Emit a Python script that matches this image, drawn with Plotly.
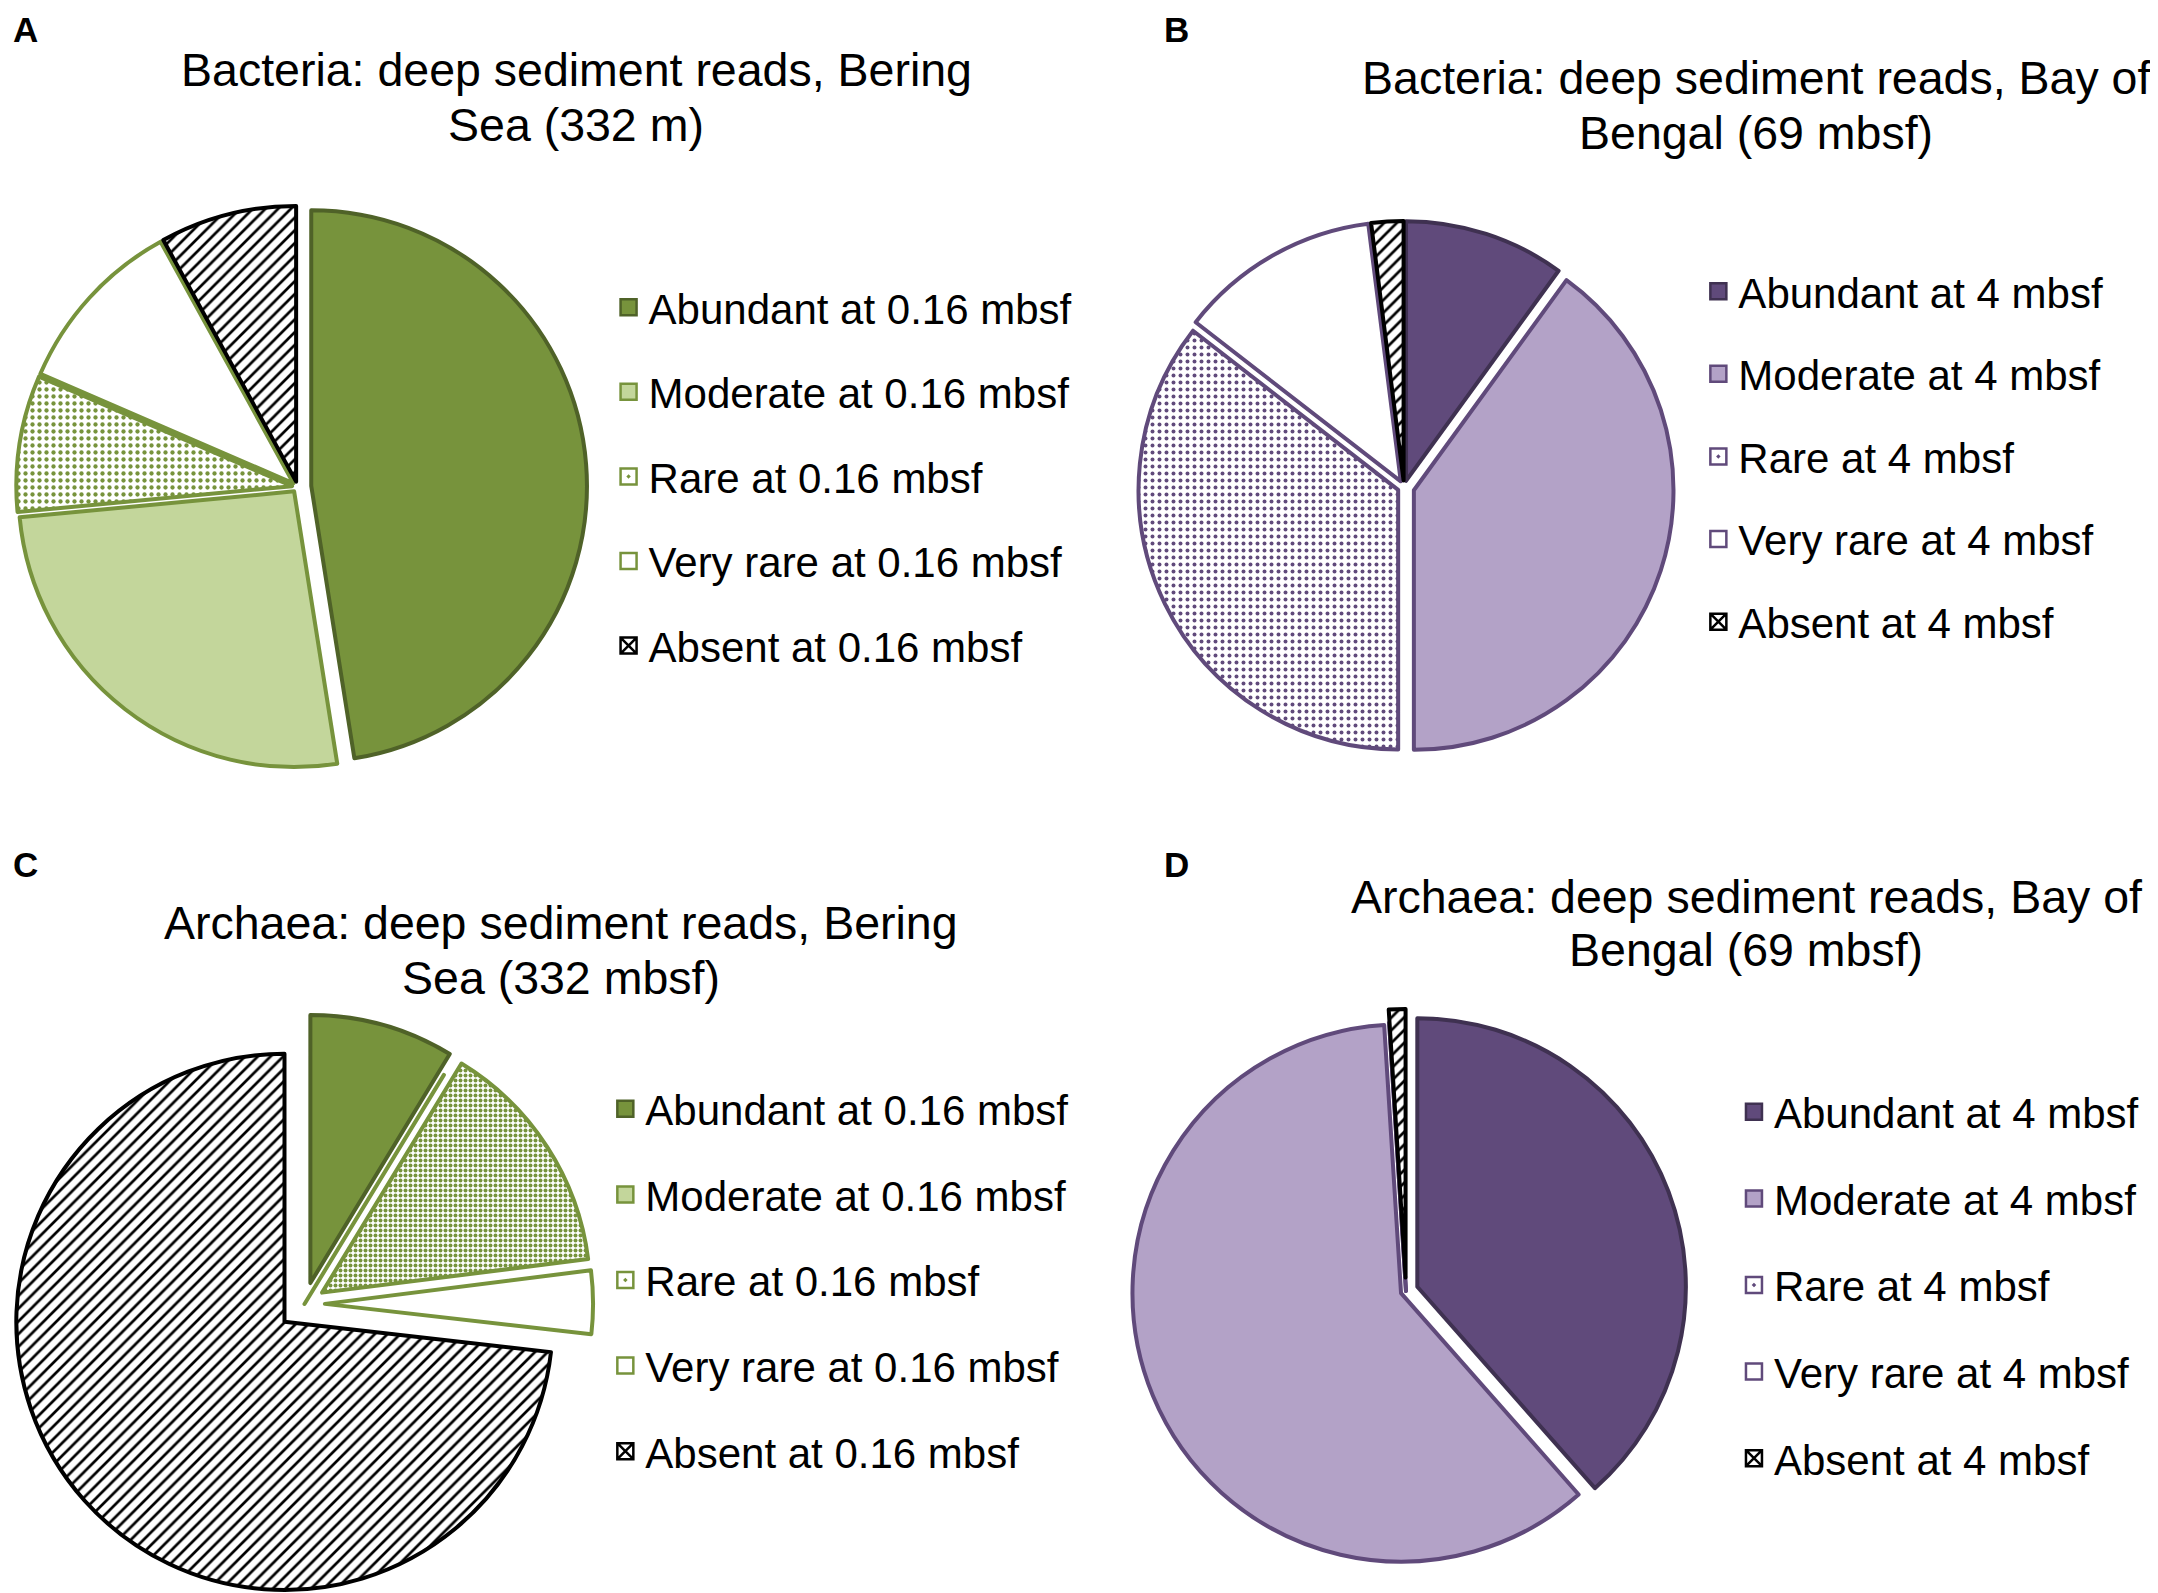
import plotly.graph_objects as go

W, H = 2158, 1593
FONT = "Liberation Sans, Arial, sans-serif"

# ---------------- data ----------------
status = ["Abundant", "Moderate", "Rare", "Very rare", "Absent"]
labels_bering = [f"{s} at 0.16 mbsf" for s in status]
labels_bengal = [f"{s} at 4 mbsf" for s in status]

# percent of reads
values_A = [47.5, 26.0, 8.0, 10.5, 8.0]    # Bacteria, Bering Sea
values_B = [10.0, 40.0, 35.5, 12.5, 2.0]   # Bacteria, Bay of Bengal
values_C = [8.7, 0.0, 14.3, 3.8, 73.2]     # Archaea, Bering Sea
values_D = [38.5, 60.5, 0.0, 0.0, 1.0]     # Archaea, Bay of Bengal

title_A = ["Bacteria: deep sediment reads, Bering", "Sea (332 m)"]
title_B = ["Bacteria: deep sediment reads, Bay of", "Bengal (69 mbsf)"]
title_C = ["Archaea: deep sediment reads, Bering", "Sea (332 mbsf)"]
title_D = ["Archaea: deep sediment reads, Bay of", "Bengal (69 mbsf)"]
panel_letters = ["A", "B", "C", "D"]

# ---------------- styles ----------------
green_fill = ["#77933C", "#C3D69B", "#FFFFFF", "#FFFFFF", "#FFFFFF"]
green_line = ["#4F6228", "#77933C", "#77933C", "#77933C", "#000000"]
green_fg = ["#77933C", "#77933C", "#77933C", "#77933C", "#000000"]
purple_fill = ["#604A7B", "#B3A2C7", "#FFFFFF", "#FFFFFF", "#FFFFFF"]
purple_line = ["#3F3151", "#604A7B", "#604A7B", "#604A7B", "#000000"]
purple_fg = ["#604A7B", "#604A7B", "#604A7B", "#604A7B", "#000000"]
shapes = ["", "", ".", "", "/"]
legend_symbols = ["square", "square", "square-dot", "square", "square-x"]


def dom(cx, cy, half):
    x0, x1 = max(0.0, (cx - half) / W), min(1.0, (cx + half) / W)
    y0, y1 = max(0.0, 1 - (cy + half) / H), min(1.0, 1 - (cy - half) / H)
    return dict(x=[x0, x1], y=[y0, y1])


panels = [
    dict(name="A", labels=labels_bering, values=values_A, fill=green_fill, line=green_line,
         fg=green_fg, dot=(7, 0.3), pull=[0.05, 0.02, 0.02, 0.02, 0.02],
         domain=dom(286, 479, 293), legend="legend", lx=0.2783, ly=0.8334, gap=27),
    dict(name="B", labels=labels_bengal, values=values_B, fill=purple_fill, line=purple_line,
         fg=purple_fg, dot=(7, 0.25), pull=[0.025, 0.04, 0.025, 0.025, 0.025],
         domain=dom(1396, 479, 270), legend="legend2", lx=0.7833, ly=0.8434, gap=25),
    dict(name="C", labels=labels_bering, values=values_C, fill=green_fill, line=green_line,
         fg=green_fg, dot=(5, 0.5), pull=[0.081, 0.0, 0.078, 0.076, 0.10],
         domain=dom(296.5, 1296, 295), legend="legend3", lx=0.2768, ly=0.3302, gap=28),
    dict(name="D", labels=labels_bengal, values=values_D, fill=purple_fill, line=purple_line,
         fg=purple_fg, dot=(7, 0.25), pull=[0.045, 0.02, 0.0, 0.0, 0.05],
         domain=dom(1398, 1283, 282), legend="legend4", lx=0.7998, ly=0.3283, gap=29),
]

fig = go.Figure()
legend_layout = {}
for p in panels:
    dsize, dsol = p["dot"]
    fig.add_trace(go.Pie(
        labels=p["labels"], values=p["values"], sort=False, direction="clockwise",
        rotation=0, pull=p["pull"], textinfo="none", showlegend=False,
        domain=p["domain"],
        marker=dict(colors=p["fill"], line=dict(color=p["line"], width=4),
                    pattern=dict(shape=shapes, fgcolor=p["fg"], bgcolor=p["fill"],
                                 size=[dsize if s == "." else 9 for s in shapes],
                                 solidity=[dsol if s == "." else 0.3 for s in shapes],
                                 fillmode="replace")),
    ))
    # legend entries (legend-only traces so that row spacing and symbol size can be set)
    for i, lab in enumerate(p["labels"]):
        fig.add_trace(go.Scatter(
            x=[None], y=[None], mode="markers", name=lab, legend=p["legend"],
            legendgroup=f"{p['name']}{i}",
            marker=dict(symbol=legend_symbols[i], size=16, color=p["fill"][i],
                        line=dict(color=p["line"][i], width=2.5)),
        ))
    legend_layout[p["legend"]] = dict(
        x=p["lx"], y=p["ly"], xanchor="left", yanchor="top",
        traceorder="grouped", tracegroupgap=p["gap"], itemsizing="trace",
        font=dict(family=FONT, size=42, color="black"),
        bgcolor="rgba(0,0,0,0)", itemclick=False, itemdoubleclick=False,
    )

annotations = []
for lines, cx, ys in [(title_A, 568, (62, 117)), (title_B, 1748, (70, 125)),
                      (title_C, 553, (915, 970)), (title_D, 1738, (889, 942))]:
    for txt, cy in zip(lines, ys):
        annotations.append(dict(text=txt, x=cx / W, y=1 - cy / H, xref="paper", yref="paper",
                                xanchor="center", yanchor="middle", showarrow=False,
                                font=dict(family=FONT, size=46.5, color="black")))
for letter, lx, ly, anchor in zip(panel_letters, [17, 1168, 17, 1168], [0, 0, 857, 857],
                                  ["top", "top", "middle", "middle"]):
    annotations.append(dict(text=f"<b>{letter}</b>", x=lx / W, y=1 - ly / H,
                            xref="paper", yref="paper", xanchor="center", yanchor=anchor,
                            showarrow=False, font=dict(family=FONT, size=35, color="black")))

fig.update_layout(
    width=W, height=H, margin=dict(l=0, r=0, t=0, b=0),
    paper_bgcolor="white", plot_bgcolor="white",
    xaxis=dict(visible=False), yaxis=dict(visible=False),
    annotations=annotations, showlegend=True,
    **legend_layout,
)

fig.write_html("out.html")
